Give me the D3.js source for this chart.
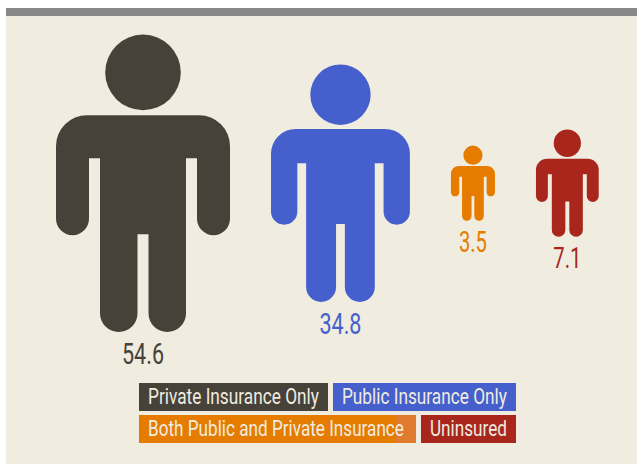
<!DOCTYPE html>
<html><head><meta charset="utf-8">
<script src="https://cdn.jsdelivr.net/npm/d3@7/dist/d3.min.js"></script>
<style>html,body{margin:0;padding:0;background:#fff;overflow:hidden}</style>
</head><body><div id="c"></div>
<script>
const categories = ["Private Insurance Only","Public Insurance Only","Both Public and Private Insurance","Uninsured"];
const values = [54.6,34.8,3.5,7.1];
const valueLabels = ["54.6","34.8","3.5","7.1"];
const colors = ["#46423a","#4560cd","#e57c00","#a8261c"];
const legendRows = [[0,1],[2,3]];

const W=637,H=465;
const FONT='Roboto,"Liberation Sans",sans-serif';
const svg=d3.select("#c").append("svg").attr("width",W).attr("height",H).style("display","block");
svg.append("rect").attr("x",6).attr("y",8).attr("width",W-6).attr("height",456).attr("fill","#f0ece0");
svg.append("rect").attr("x",6).attr("y",8).attr("width",W-6).attr("height",8).attr("fill","#888888");

const h=d3.scaleSqrt().domain([0,54.6]).range([0,298]);
const ASPECT=174/298, GAP=41, CY=183.2, X0=56;
function personPath(){
  const p=d3.path();
  p.moveTo(0,112);
  p.arcTo(0,81,31,81,31);
  p.lineTo(143,81);
  p.arcTo(174,81,174,112,31);
  p.lineTo(174,184.5);
  p.arc(157.5,184.5,16.5,0,Math.PI);
  p.lineTo(141,124);p.lineTo(130,124);
  p.lineTo(130,279);
  p.arc(111.25,279,18.75,0,Math.PI);
  p.lineTo(92.5,200);p.lineTo(81.5,200);p.lineTo(81.5,279);
  p.arc(62.75,279,18.75,0,Math.PI);
  p.lineTo(44,124);p.lineTo(33,124);p.lineTo(33,184.5);
  p.arc(16.5,184.5,16.5,0,Math.PI);
  p.closePath();
  p.moveTo(124.8,38.2);
  p.arc(87,38.2,37.8,0,2*Math.PI);
  p.closePath();
  return p.toString();
}
function fit(sel,width,ax,y,anchor){
  const n=sel.node().getComputedTextLength();
  const k=width/n;
  sel.attr("text-anchor",anchor).attr("transform",`translate(${ax},${y}) scale(${k},1)`);
}
let x=X0;
const layout=values.map(v=>{const hh=h(v),w=hh*ASPECT,o={x,w,hh,top:CY-hh/2};x+=w+GAP;return o;});
const valueWidths=[42,42,28,28];
values.forEach((v,i)=>{
  const l=layout[i];
  svg.append("path").attr("d",personPath()).attr("fill",colors[i])
    .attr("transform",`translate(${l.x},${l.top}) scale(${l.hh/298})`);
  const t=svg.append("text").text(valueLabels[i]).attr("font-family",FONT).attr("font-size",29.5).attr("fill",colors[i]);
  fit(t,valueWidths[i],l.x+l.w/2,l.top+l.hh+31.5,"middle");
});

const ROWH=28,ROWGAP=4,ITEMGAP=5,PAD=9,LX=139,LY=383;
const widths=[189,183,277,95];
const textWidths=[171,165,256,77];
legendRows.forEach((row,r)=>{
  let lx=LX;
  row.forEach(i=>{
    const y=LY+r*(ROWH+ROWGAP);
    svg.append("rect").attr("x",lx).attr("y",y).attr("width",widths[i]).attr("height",ROWH).attr("fill",colors[i]);
    if(i===2) svg.append("rect").attr("x",lx+widths[i]-20).attr("y",y).attr("width",20).attr("height",ROWH).attr("fill","#e07a2c");
    const t=svg.append("text").text(categories[i]).attr("font-family",FONT).attr("font-size",22).attr("fill","#f0ece0");
    fit(t,textWidths[i],lx+PAD,y+21,"start");
    lx+=widths[i]+ITEMGAP;
  });
});
</script></body></html>
